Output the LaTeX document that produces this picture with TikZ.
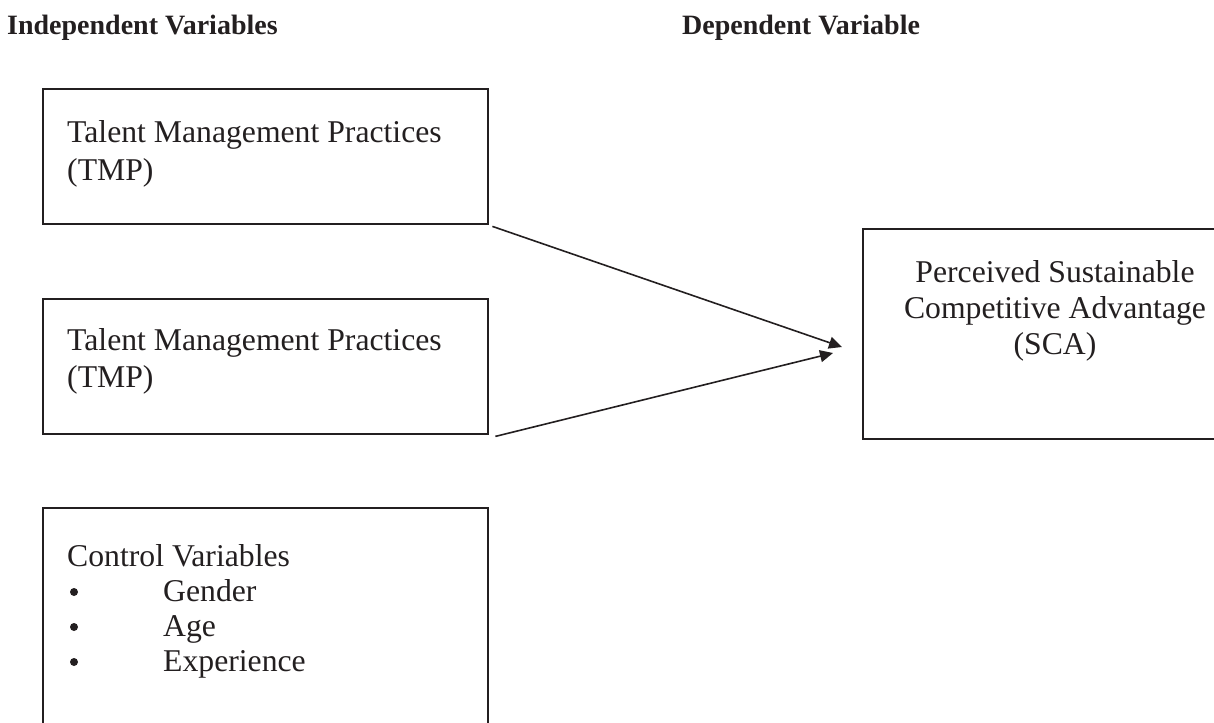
\documentclass[tikz,border=0pt]{standalone}
\usepackage{fontspec}
\setmainfont{Liberation Serif}
\usetikzlibrary{arrows.meta}
\definecolor{ink}{HTML}{231F20}
\tikzset{
  boxshape/.style={draw=ink, line width=2.4pt, rectangle, inner sep=0pt, anchor=north west},
  body/.style={anchor=base west, inner sep=0pt, text=ink, font=\fontsize{31.7}{36}\selectfont},
  bodyc/.style={anchor=base, inner sep=0pt, text=ink, font=\fontsize{31.7}{36}\selectfont},
  head/.style={anchor=base west, inner sep=0pt, text=ink, font=\fontsize{28}{32}\selectfont\bfseries},
  link/.style={draw=ink, line width=1.6pt, -{Triangle[length=13pt,width=12pt]}},
}
\begin{document}
\begin{tikzpicture}[x=1pt,y=-1pt]
\useasboundingbox (0,0) rectangle (1214,722);
\clip (0,0) rectangle (1214,722);
% headers
\node[head] (hind) at (7,35) {Independent Variables};
\node[head] (hdep) at (682,35) {Dependent Variable};
% boxes
\node[boxshape, minimum width=445pt, minimum height=135pt] (tmpa) at (42,88) {};
\node[boxshape, minimum width=445pt, minimum height=135pt] (tmpb) at (42,298) {};
\node[boxshape, minimum width=445pt, minimum height=240pt] (ctrl) at (42,507) {};
\node[boxshape, minimum width=380pt, minimum height=210pt] (sca) at (862,228) {};
% texts
\node[body] (ta1) at (67,143) {Talent Management Practices};
\node[body] (ta2) at (67,180) {(TMP)};
\node[body] (tb1) at (67,350) {Talent Management Practices};
\node[body] (tb2) at (67,387) {(TMP)};
\node[body] (c0) at (67,566) {Control Variables};
\node[body] (c1) at (163,601) {Gender};
\node[body] (c2) at (163,636) {Age};
\node[body] (c3) at (163,671) {Experience};
\foreach \y/\n in {601/b1,636/b2,671/b3}
  \node[circle, fill=ink, inner sep=0pt, minimum size=8pt] (\n) at (74,\y-9) {};
\node[bodyc] (s1) at (1055,282) {Perceived Sustainable};
\node[bodyc] (s2) at (1055,318) {Competitive Advantage};
\node[bodyc] (s3) at (1055,354) {(SCA)};
% connectors
\coordinate (tipa) at (842,347);
\coordinate (tipb) at (833,353);
\draw[link] ([xshift=3pt,yshift=-1pt]tmpa.south east) -- (tipa);
\draw[link] ([xshift=6pt,yshift=-1pt]tmpb.south east) -- (tipb);
\end{tikzpicture}
\end{document}
